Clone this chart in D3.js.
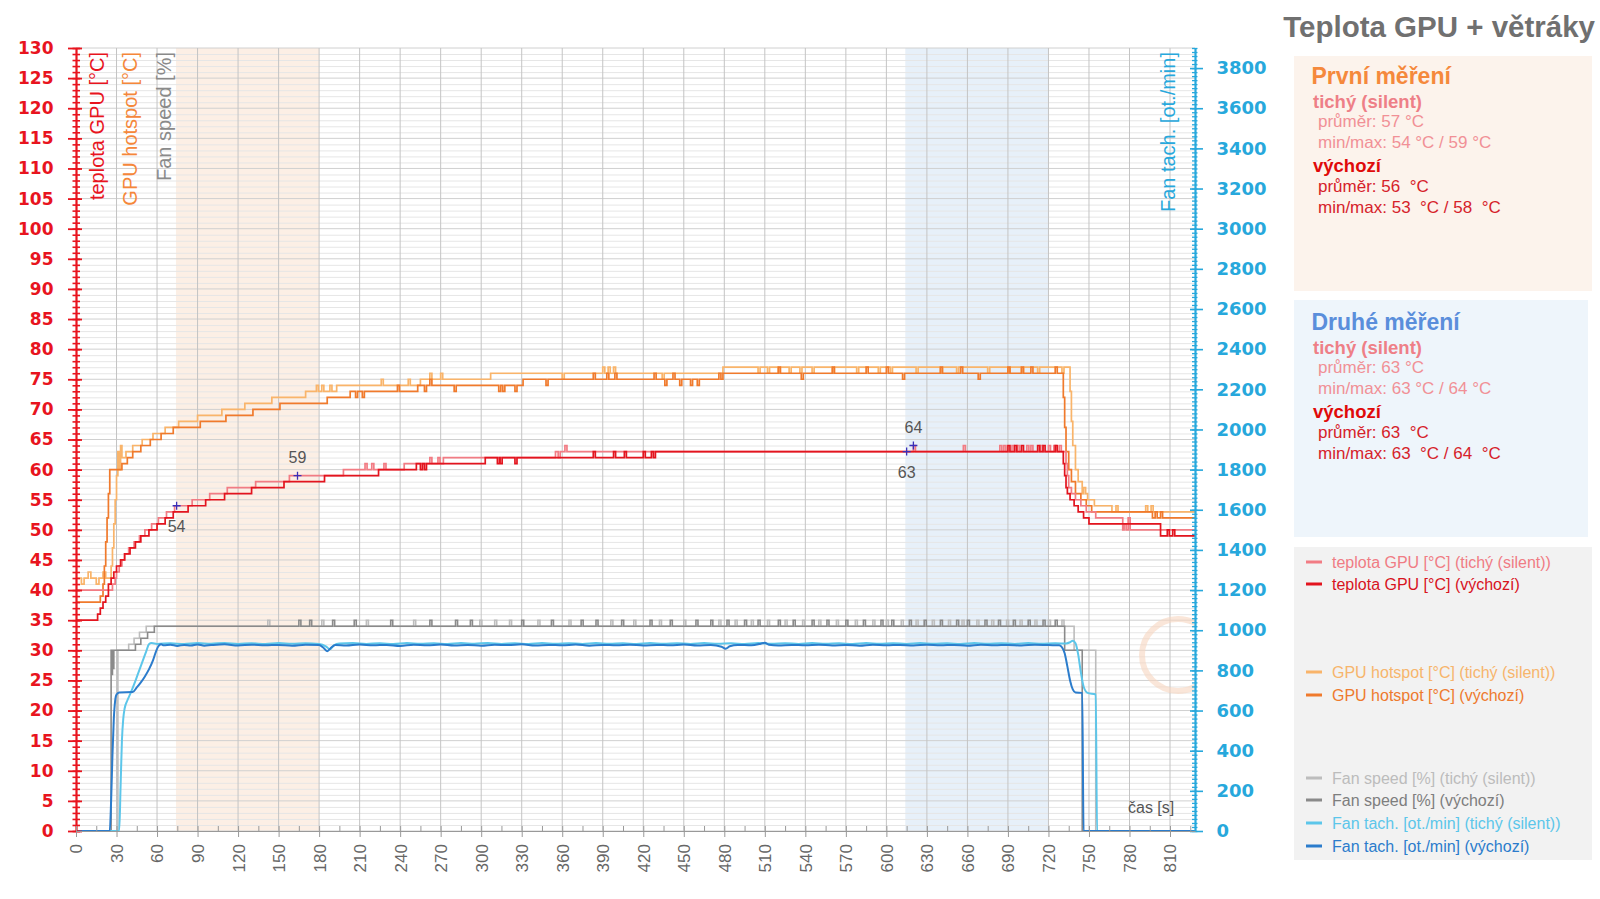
<!DOCTYPE html>
<html><head><meta charset="utf-8">
<script src="https://cdn.jsdelivr.net/npm/d3@7"></script>
<style>body{margin:0;background:#fff}svg{display:block}</style>
</head><body>
<svg id="c" width="1600" height="899"></svg>
<script>
// ---------------- DATA ----------------
const X_MAX = 828.5;
const timeTicks = d3.range(0, 811, 30);
const timeMinorTicks = d3.range(15, 828, 30);
const tempTicks = d3.range(0, 131, 5);
const tempMinorTicks = d3.range(0, 131, 1);
const rpmTicks = d3.range(0, 3801, 200);
const rpmMinorTicks = d3.range(0, 3901, 20);
const bandRanges = [[74, 180], [614, 720]];

// step series: [time s, value] change points
const tempSilentSteps = [[0,40],[27,41],[29,42],[30,43],[32,44],[34,45],[36,46],[39,47],[43,48],[47,49],[51,50],[56,51],[61,52],[67,53],[73,54],[86,55],[99,56],[112,57],[133,58],[158,59],[198,60],[243,61],[272,62],[355,63],[733,61],[734,59],[735,57],[737,56],[740,55],[744,54],[748,53],[755,52],[775,50]];
const tempSilentSpikes = [[214,61],[219,61],[228,61],[262,62],[268,62],[357,62],[362,64],[620,64],[657,64],[684,64],[687,64],[693,64],[697,64],[704,64],[707,64],[714,64],[720,64],[724,64],[728,64],[776,51],[779,52]];

const tempDefaultSteps = [[0,35],[16,36],[18,37],[20,38],[22,39],[24,41],[26,42],[28,43],[30,44],[33,45],[36,46],[40,47],[44,48],[48,49],[54,50],[60,51],[66,52],[72,53],[83,54],[96,55],[110,56],[130,57],[154,58],[184,59],[224,60],[252,61],[303,62],[429,63],[730,63],[731,61],[732,59],[733,57],[734,56],[736,55],[739,54],[742,53],[746,52],[750,51],[803,49]];
const tempDefaultSpikes = [[255,60],[258,60],[312,61],[314,61],[325,61],[383,63],[398,63],[406,63],[420,63],[426,63],[690,64],[695,64],[700,64],[712,64],[716,64],[725,64],[808,50],[812,50]];

const hotSilentSteps = [[0,42],[4,41],[6,42],[9,43],[11,42],[15,41],[17,42],[20,43],[22,42],[26,44],[27,47],[28,51],[29,55],[30,59],[31,63],[32,60],[33,64],[34,62],[37,63],[42,64],[49,65],[57,66],[66,67],[76,68],[90,69],[108,70],[125,71],[145,72],[170,73],[193,74],[255,75],[307,76],[479,77],[735,77],[736,73],[737,68],[738,64],[740,60],[742,58],[745,56],[749,55],[754,54],[767,53]];
const hotSilentSpikes = [[178,74],[182,74],[188,74],[226,75],[246,75],[262,76],[270,76],[360,75],[390,77],[394,77],[398,77],[434,75],[505,76],[512,76],[520,76],[528,76],[536,76],[545,76],[560,76],[578,76],[594,76],[603,76],[622,76],[640,76],[652,76],[675,76],[690,76],[700,76],[712,76],[730,76],[746,57],[770,54],[792,54],[796,54]];

const hotDefaultSteps = [[0,38],[18,39],[20,41],[21,44],[22,48],[23,52],[24,56],[25,60],[34,61],[38,62],[42,63],[48,64],[55,65],[63,66],[72,67],[92,68],[111,69],[131,70],[151,71],[186,72],[203,73],[253,74],[331,75],[479,76],[730,76],[731,72],[732,67],[733,63],[735,60],[737,58],[740,56],[744,55],[748,54],[752,53],[797,52]];
const hotDefaultSpikes = [[170,71],[175,71],[207,72],[212,72],[238,74],[258,73],[262,75],[280,73],[313,73],[316,73],[325,73],[348,74],[383,76],[393,76],[399,76],[428,76],[436,74],[442,76],[447,74],[455,74],[460,74],[476,76],[520,77],[537,75],[560,77],[585,77],[600,77],[612,75],[640,77],[655,77],[668,75],[690,77],[700,77],[707,77],[725,77],[799,53],[803,53]];

const fanSilentSteps = [[0,0],[31,30],[39,31],[43,32],[47,33],[52,34],[739,30],[755,0]];
const fanSilentSpikes = [[142,35],[182,35],[215,35],[250,35],[299,35],[310,35],[321,35],[342,35],[365,35],[396,35],[413,35],[432,35],[450,35],[476,35],[488,35],[500,35],[512,35],[525,35],[538,35],[550,35],[563,35],[577,35],[590,35],[600,35],[611,35],[622,35],[634,35],[646,35],[656,35],[667,35],[678,35],[689,35],[699,35],[710,35],[720,35],[730,35]];
const fanDefaultSteps = [[0,0],[26,30],[26.5,26],[27,30],[27.5,27],[28,30],[44,31],[48,32],[53,33],[58,34],[732,30],[745,0]];
const fanDefaultSpikes = [[165,35],[173,35],[190,35],[206,35],[233,35],[262,35],[281,35],[292,35],[330,35],[352,35],[374,35],[385,35],[404,35],[425,35],[440,35],[459,35],[470,35],[482,35],[495,35],[505,35],[520,35],[531,35],[545,35],[556,35],[570,35],[583,35],[596,35],[604,35],[617,35],[628,35],[640,35],[652,35],[660,35],[673,35],[683,35],[694,35],[705,35],[716,35],[725,35]];

// fan tach readings [time s, rpm]
const tachSilent = [[0,0],[32,0],[33,220],[34,450],[35,560],[36,610],[38,650],[40,680],[43,730],[46,785],[49,840],[52,895],[54,930],[56,936],[60,932],[70,935],[80,931],[90,936],[100,933],[110,937],[120,932],[130,935],[140,931],[150,936],[160,933],[170,935],[180,932],[185,920],[188,905],[191,925],[195,934],[205,936],[215,932],[225,935],[235,931],[245,936],[255,933],[265,935],[275,931],[285,936],[295,933],[305,937],[315,932],[325,935],[335,931],[345,936],[355,933],[365,935],[375,932],[385,936],[395,933],[405,935],[415,931],[425,936],[435,933],[445,935],[455,932],[465,936],[475,933],[485,935],[495,931],[505,936],[515,933],[525,935],[535,932],[545,936],[555,933],[565,935],[575,931],[585,936],[595,933],[605,935],[615,932],[625,936],[635,933],[645,935],[655,931],[665,936],[675,933],[685,935],[695,932],[705,936],[715,933],[725,935],[733,934],[736,940],[738,948],[740,935],[742,880],[744,790],[746,720],[749,688],[755,680],[756,0],[828.5,0]];
const tachDefault = [[0,0],[25,0],[26,150],[27,380],[28,560],[29,650],[30,680],[32,690],[42,692],[45,715],[48,740],[51,770],[54,805],[57,850],[59,890],[61,920],[63,930],[65,925],[70,928],[75,922],[80,927],[85,924],[90,929],[95,923],[100,926],[110,930],[120,924],[130,928],[140,925],[150,927],[160,923],[170,928],[180,926],[183,914],[186,895],[189,914],[192,927],[200,924],[210,929],[220,925],[230,927],[240,922],[250,928],[260,925],[270,929],[280,924],[290,927],[300,923],[310,928],[320,926],[330,930],[340,924],[350,927],[360,925],[370,929],[380,923],[390,927],[400,925],[410,928],[420,924],[430,927],[440,925],[450,929],[460,924],[470,927],[478,918],[481,908],[484,920],[490,927],[500,925],[507,933],[510,938],[513,928],[520,924],[530,927],[540,925],[550,928],[560,924],[570,927],[580,923],[590,928],[600,925],[610,927],[620,924],[630,928],[640,925],[650,927],[660,923],[670,928],[680,925],[690,927],[700,924],[710,928],[720,926],[728,925],[730,915],[732,885],[734,820],[736,750],[738,705],[740,690],[745,688],[746,0],[828.5,0]];

const annotations = [[74.5,54,"54","below"],[164,59,"59","above"],[620,64,"64","above"],[615,63,"63","below"]];

const legendNames = ["teplota GPU [°C] (tichý (silent))","teplota GPU [°C] (výchozí)","GPU hotspot [°C] (tichý (silent))","GPU hotspot [°C] (výchozí)","Fan speed [%] (tichý (silent))","Fan speed [%] (výchozí)","Fan tach. [ot./min] (tichý (silent))","Fan tach. [ot./min] (výchozí)"];
const panelTitles = ["První měření","Druhé měření"];
const panelStats = [
  {silentAvg:"57 °C", silentMinMax:"54 °C / 59 °C", defAvg:"56  °C", defMinMax:"53  °C / 58  °C"},
  {silentAvg:"63 °C", silentMinMax:"63 °C / 64 °C", defAvg:"63  °C", defMinMax:"63  °C / 64  °C"}
];

// ---------------- STYLE ----------------
const C = {
  tempSilent:"#f27c84", tempDefault:"#e3141e",
  hotSilent:"#f9b46a", hotDefault:"#f07a2c",
  fanSilent:"#bdbdbd", fanDefault:"#8a8a8a",
  tachSilent:"#5cc6ea", tachDefault:"#2b7ccc",
  axisRed:"#e8141e", axisCyan:"#27a8dc"
};
const legendColors = [C.tempSilent,C.tempDefault,C.hotSilent,C.hotDefault,C.fanSilent,C.fanDefault,C.tachSilent,C.tachDefault];
const legendTextColors = ["#f07c84","#d8141e","#f7b56c","#ee7a2e","#bcbcbc","#7e7e7e","#5cc6ea","#2b7ccc"];
const legendY = [562, 584, 672, 695, 778, 800, 823, 846];
const bandFill = ["#fcefe5", "#e7f0f9"];

// ---------------- CHART ----------------
const svg = d3.select('#c');
const P = {l:76, r:1195, t:48, b:831};
const x = d3.scaleLinear().domain([0, X_MAX]).range([P.l, P.r]);
const yT = d3.scaleLinear().domain([0, 130]).range([P.b, P.t]);
const yR = d3.scaleLinear().domain([0, 3900]).range([P.b, P.t]);
const SANS = "'Liberation Sans', Arial, sans-serif";

svg.append('defs').append('clipPath').attr('id','clip')
  .append('rect').attr('x',P.l).attr('y',P.t-4).attr('width',P.r-P.l).attr('height',P.b-P.t+6);

// bands
bandRanges.forEach((b,i)=>{
  svg.append('rect').attr('x',x(b[0])).attr('y',P.t).attr('width',x(b[1])-x(b[0]))
    .attr('height',P.b-P.t).attr('fill',bandFill[i]);
});

// grid
const grid = svg.append('g');
grid.selectAll('.hm').data(tempMinorTicks.filter(v=>v%5)).join('line')
  .attr('x1',P.l).attr('x2',P.r).attr('y1',d=>yT(d)+0.5).attr('y2',d=>yT(d)+0.5)
  .attr('stroke','#e6e6e6').attr('stroke-width',1);
grid.selectAll('.hM').data(tempTicks).join('line')
  .attr('x1',P.l).attr('x2',P.r).attr('y1',d=>yT(d)).attr('y2',d=>yT(d))
  .attr('stroke','#d0d0d0').attr('stroke-width',1);
grid.selectAll('.v').data(timeTicks.filter(d=>d>0)).join('line')
  .attr('x1',d=>x(d)).attr('x2',d=>x(d)).attr('y1',P.t).attr('y2',P.b)
  .attr('stroke','#c4c4c4').attr('stroke-width',1);

// watermark
svg.append('circle').attr('cx',1178).attr('cy',655).attr('r',36)
  .attr('fill','none').attr('stroke','#f7d6c0').attr('stroke-width',6).attr('opacity',0.6)
  .attr('clip-path','url(#clip)');

// axis titles inside plot
const titles = [
  {t:"teplota GPU [°C]", x:104, c:C.axisRed},
  {t:"GPU hotspot [°C]", x:137, c:"#f5873a"},
  {t:"Fan speed [%]", x:171, c:"#8a8a8a"},
  {t:"Fan tach. [ot./min]", x:1175, c:C.axisCyan}
];
titles.forEach(d=>{
  svg.append('text').attr('transform',`translate(${d.x},52) rotate(-90)`)
    .attr('text-anchor','end').attr('font-family',SANS).attr('font-size',20)
    .attr('fill',d.c).text(d.t);
});

// series
function buildSteps(steps, spikes){
  const base = t => { let v = steps[0][1]; for (const s of steps){ if (s[0] <= t) v = s[1]; else break; } return v; };
  const pts = steps.map(d=>({t:d[0], v:d[1]}));
  spikes.forEach(([t,p])=>{ pts.push({t:t, v:p}); pts.push({t:t+1.5, v:base(t)}); });
  pts.sort((a,b)=>a.t-b.t);
  pts.push({t:X_MAX, v:pts[pts.length-1].v});
  return pts;
}
const plot = svg.append('g').attr('clip-path','url(#clip)');
const stepLine = d3.line().x(d=>x(d.t)).y(d=>yT(d.v)).curve(d3.curveStepAfter);
const tachLine = d3.line().x(d=>x(d[0])).y(d=>yR(d[1])).curve(d3.curveMonotoneX);

const stepSeries = [
  [fanSilentSteps, fanSilentSpikes, C.fanSilent, 1.6],
  [fanDefaultSteps, fanDefaultSpikes, C.fanDefault, 1.6]
];
stepSeries.forEach(([s,sp,c,w])=>{
  plot.append('path').attr('d',stepLine(buildSteps(s,sp))).attr('fill','none').attr('stroke',c).attr('stroke-width',w);
});
plot.append('path').attr('d',tachLine(tachSilent)).attr('fill','none').attr('stroke',C.tachSilent).attr('stroke-width',2);
plot.append('path').attr('d',tachLine(tachDefault)).attr('fill','none').attr('stroke',C.tachDefault).attr('stroke-width',2);
const tempSeries = [
  [hotSilentSteps, hotSilentSpikes, C.hotSilent],
  [hotDefaultSteps, hotDefaultSpikes, C.hotDefault],
  [tempSilentSteps, tempSilentSpikes, C.tempSilent],
  [tempDefaultSteps, tempDefaultSpikes, C.tempDefault]
];
tempSeries.forEach(([s,sp,c])=>{
  plot.append('path').attr('d',stepLine(buildSteps(s,sp))).attr('fill','none').attr('stroke',c).attr('stroke-width',1.7);
});

// left axis
const gL = svg.append('g').attr('transform',`translate(${P.l},0)`);
gL.append('g').call(d3.axisLeft(yT).tickValues(tempMinorTicks).tickSize(3.5).tickSizeOuter(0).tickFormat(''))
  .call(g=>{g.select('.domain').remove(); g.selectAll('line').attr('x1',4).attr('stroke',C.axisRed).attr('stroke-width',1.6);});
gL.append('g').call(d3.axisLeft(yT).tickValues(tempTicks).tickSize(8).tickSizeOuter(0).tickPadding(14.5).tickFormat(d3.format('d')))
  .call(g=>{
    g.select('.domain').attr('stroke',C.axisRed).attr('stroke-width',2.2);
    g.selectAll('line').attr('x1',6).attr('stroke',C.axisRed).attr('stroke-width',1.8);
    g.selectAll('text').attr('fill',C.axisRed).attr('font-family',"'DejaVu Sans', Verdana, sans-serif")
      .attr('font-weight','bold').attr('font-size',17);
  });

// right axis
const gR = svg.append('g').attr('transform',`translate(${P.r},0)`);
gR.append('g').call(d3.axisRight(yR).tickValues(rpmMinorTicks).tickSize(2.5).tickSizeOuter(0).tickFormat(''))
  .call(g=>{g.select('.domain').remove(); g.selectAll('line').attr('x1',-3).attr('stroke',C.axisCyan).attr('stroke-width',1.3);});
gR.append('g').call(d3.axisRight(yR).tickValues(rpmTicks).tickSize(8).tickSizeOuter(0).tickPadding(13.5).tickFormat(d3.format('d')))
  .call(g=>{
    g.select('.domain').attr('stroke',C.axisCyan).attr('stroke-width',2.2);
    g.selectAll('line').attr('x1',-5).attr('stroke',C.axisCyan).attr('stroke-width',1.6);
    g.selectAll('text').attr('fill',C.axisCyan).attr('font-family',"'DejaVu Sans', Verdana, sans-serif")
      .attr('font-weight','bold').attr('font-size',18);
  });

// bottom axis
const gB = svg.append('g').attr('transform',`translate(0,${P.b})`);
gB.append('g').call(d3.axisBottom(x).tickValues(timeMinorTicks).tickSize(-5).tickSizeOuter(0).tickFormat(''))
  .call(g=>{g.select('.domain').remove(); g.selectAll('line').attr('stroke','#999');});
gB.append('g').call(d3.axisBottom(x).tickValues(timeTicks).tickSize(6).tickSizeOuter(0).tickFormat(d3.format('d')))
  .call(g=>{
    g.select('.domain').attr('stroke','#999').attr('stroke-width',1.2);
    g.selectAll('line').attr('y1',-5).attr('stroke','#999');
    g.selectAll('text').attr('transform','rotate(-90)').attr('x',-13).attr('y',0).attr('dy','0.35em')
      .attr('text-anchor','end').attr('fill','#666').attr('font-family',SANS).attr('font-size',17);
  });
svg.append('text').attr('x',1128).attr('y',813).attr('font-family',SANS).attr('font-size',16)
  .attr('fill','#555').text('čas [s]');

// annotations
annotations.forEach(([t,v,lab,pos])=>{
  const px = x(t), py = yT(v);
  svg.append('path').attr('d',`M${px-4},${py}H${px+4}M${px},${py-4}V${py+4}`)
    .attr('stroke','#3a2fb8').attr('stroke-width',1.3);
  svg.append('text').attr('x',px).attr('y', pos==='below' ? py+26.5 : py-12.7)
    .attr('text-anchor','middle').attr('font-family',SANS).attr('font-size',16).attr('fill','#555').text(lab);
});

// title
svg.append('text').attr('x',1595).attr('y',37).attr('text-anchor','end')
  .attr('font-family',SANS).attr('font-weight','bold').attr('font-size',29.5).attr('fill','#707070')
  .text('Teplota GPU + větráky');

// panels
const panelBoxes = [{y:56,h:235,w:298,fill:"#fcf3ec"},{y:300,h:237,w:294,fill:"#eef5fb"}];
const panelTitleColors = ["#f5893c","#5a8edb"];
const panelBase = [83.5, 329.5];
panelBoxes.forEach((b,i)=>{
  svg.append('rect').attr('x',1294).attr('y',b.y).attr('width',b.w).attr('height',b.h).attr('fill',b.fill);
  const y0 = panelBase[i];
  const s = panelStats[i];
  const g = svg.append('g').attr('font-family',SANS).style('white-space','pre');
  g.append('text').attr('x',1311.5).attr('y',y0).attr('font-weight','bold').attr('font-size',23)
    .attr('fill',panelTitleColors[i]).text(panelTitles[i]);
  const rows = [
    {dy:24, x:1313, t:"tichý (silent)", bold:true, c:"#ee7f87", fs:18.5},
    {dy:43, x:1318, t:"průměr: "+s.silentAvg, c:"#f19096", fs:17},
    {dy:64, x:1318, t:"min/max: "+s.silentMinMax, c:"#f19096", fs:17},
    {dy:88, x:1313, t:"výchozí", bold:true, c:"#e00a0a", fs:18.5},
    {dy:108, x:1318, t:"průměr: "+s.defAvg, c:"#d6222a", fs:17},
    {dy:129, x:1318, t:"min/max: "+s.defMinMax, c:"#d6222a", fs:17}
  ];
  rows.forEach(r=>{
    g.append('text').attr('x',r.x).attr('y',y0+r.dy).attr('font-size',r.fs)
      .attr('xml:space','preserve').style('white-space','pre')
      .attr('font-weight',r.bold?'bold':'normal').attr('fill',r.c).text(r.t);
  });
});

// legend
svg.append('rect').attr('x',1294).attr('y',547).attr('width',298).attr('height',313).attr('fill','#f2f2f2');
legendNames.forEach((n,i)=>{
  svg.append('line').attr('x1',1306).attr('x2',1322).attr('y1',legendY[i]).attr('y2',legendY[i])
    .attr('stroke',legendColors[i]).attr('stroke-width',3);
  svg.append('text').attr('x',1332).attr('y',legendY[i]+5.5).attr('font-family',SANS).attr('font-size',16)
    .attr('fill',legendTextColors[i]).text(n);
});
</script>
</body></html>
